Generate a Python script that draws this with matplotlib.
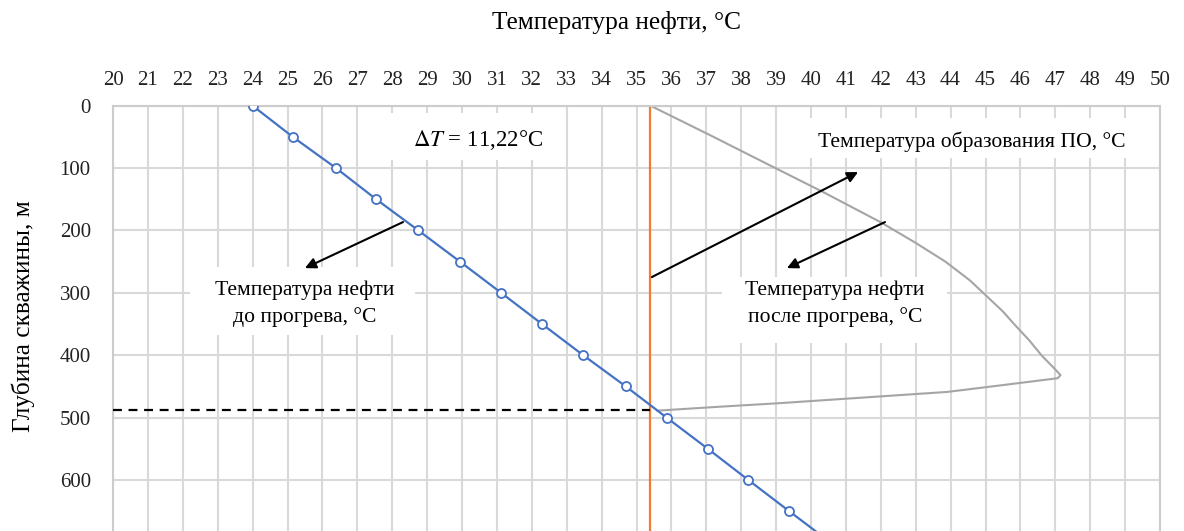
import matplotlib
matplotlib.use("Agg")
import matplotlib.pyplot as plt
from matplotlib.patches import Rectangle

# ---- data ----
depth_before = [0, 50, 100, 150, 200, 250, 300, 350, 400, 450, 500, 550, 600, 650, 700]
temp_before = [24.0, 25.15, 26.39, 27.54, 28.75, 29.94, 31.12, 32.29, 33.47, 34.69,
               35.86, 37.04, 38.20, 39.37, 40.55]

temp_after = [35.4, 37.1, 38.8, 40.4, 42.0, 43.0, 43.85, 44.55, 44.95, 45.5, 45.8,
              46.25, 46.6, 46.95, 47.15, 47.07, 45.5, 43.9, 41.5, 39.1, 37.3, 35.6]
depth_after = [0, 47, 95, 140, 187, 220, 250, 280, 301, 330, 349,
               376, 400, 420, 432, 437, 448, 459, 468, 477, 483, 489]

temp_formation = [35.4, 35.4]
depth_formation = [0, 760]

dashed_depth = [488, 488]
dashed_temp = [20, 35.4]

x_ticks = list(range(20, 51))
y_ticks = [0, 100, 200, 300, 400, 500, 600]

delta_label = r"$\Delta T$ = 11,22°C"
label_formation = "Температура образования ПО, °C"
label_before = "Температура нефти\nдо прогрева, °C"
label_after = "Температура нефти\nпосле прогрева, °C"
xlabel = "Температура нефти, °C"
ylabel = "Глубина скважины, м"

# ---- style ----
plt.rcParams['font.family'] = ['Liberation Serif', 'DejaVu Serif']
plt.rcParams['mathtext.fontset'] = 'stix'

W, H = 1184, 531
fig = plt.figure(figsize=(W / 100, H / 100), dpi=100)
ax = fig.add_axes([113 / W, 0.0, (1160 - 113) / W, (531 - 105.7) / H])

ax.set_xticks(x_ticks)
ax.set_yticks(y_ticks)
ax.set_xlim(20, 50)
ax.set_ylim(682, 0)
ax.xaxis.tick_top()
ax.tick_params(axis='both', length=0, labelsize=15, colors='#222222')
ax.tick_params(axis='x', pad=11)
ax.tick_params(axis='y', pad=16)
ax.grid(True, color='#d9d9d9', linewidth=1.5)
ax.set_axisbelow(True)
for s in ['left', 'top', 'right']:
    ax.spines[s].set_color('#cccccc')
    ax.spines[s].set_linewidth(1.5)
ax.spines['bottom'].set_visible(False)

# white label boxes covering the grid
boxes = [
    (27.79, 11.7, 32.81, 87.1),
    (39.54, 19.7, 50.3, 83.9),
    (22.21, 259.0, 28.65, 367.8),
    (37.45, 274.8, 43.90, 380.7),
]
for x0, y0, x1, y1 in boxes:
    ax.add_patch(Rectangle((x0, y0), x1 - x0, y1 - y0, facecolor='white',
                           edgecolor='none', zorder=1, clip_on=False))

ax.plot(temp_formation, depth_formation, color='#ED7D31', lw=1.6, zorder=2)
ax.plot(temp_after, depth_after, color='#A5A5A5', lw=1.5, zorder=2)
ax.plot(dashed_temp, dashed_depth, color='black', lw=1.6, ls=(0, (4, 3)), zorder=3)
ax.plot(temp_before, depth_before, color='#4472C4', lw=1.6, marker='o', ms=6.5,
        mfc='white', mec='#4472C4', mew=1.3, zorder=4)

# annotations
ax.text(30.45, 55, delta_label, fontsize=16.5, ha='center', va='center', zorder=5)
ax.text(44.6, 58, label_formation, fontsize=15.6, ha='center', va='center', zorder=5)
ax.text(25.5, 318, label_before, fontsize=15.6, ha='center', va='center',
        linespacing=1.45, zorder=5)
ax.text(40.69, 318, label_after, fontsize=15.6, ha='center', va='center',
        linespacing=1.45, zorder=5)

arrow_kw = dict(arrowstyle='-|>', color='black', lw=1.5, mutation_scale=16,
                shrinkA=0, shrinkB=0)
ax.annotate('', xy=(25.50, 260.4), xytext=(28.31, 186.6), arrowprops=arrow_kw, zorder=6)
ax.annotate('', xy=(41.35, 106.4), xytext=(35.44, 274.8), arrowprops=arrow_kw, zorder=6)
ax.annotate('', xy=(39.31, 260.4), xytext=(42.12, 186.6), arrowprops=arrow_kw, zorder=6)

fig.text(617 / W, 1 - 22 / H, xlabel, fontsize=18.3, ha='center', va='center')
fig.text(23 / W, 1 - 316 / H, ylabel, fontsize=18.3, ha='center', va='center', rotation=90)

fig.savefig('out.png', dpi=100)
